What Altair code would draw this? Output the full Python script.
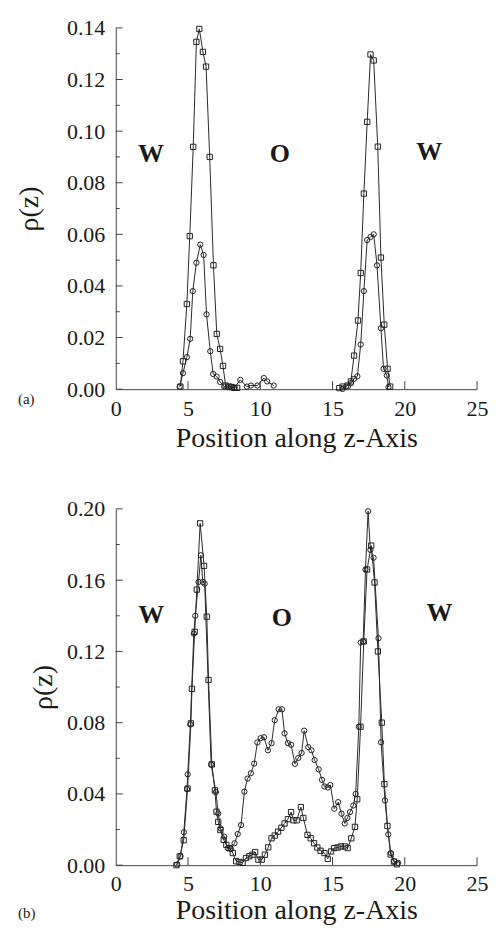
import altair as alt
import pandas as pd

SERIF = "Liberation Serif"

# ---------------- Panel (a) ----------------
a_sq_z = [4.47, 4.65, 4.92, 5.12, 5.36, 5.58, 5.78, 6.03, 6.25, 6.50, 6.76, 6.99, 7.22, 7.42, 7.60,
          7.80, 8.00, 8.20, 8.40,
          15.47, 15.70, 16.04, 16.27, 16.49, 16.76, 16.95, 17.17, 17.40, 17.63, 17.85, 18.13, 18.35,
          18.58, 18.81, 18.99]
a_sq_rho = [0.001, 0.0108, 0.033, 0.0593, 0.0939, 0.1346, 0.1396, 0.1307, 0.125, 0.090, 0.048, 0.0214,
            0.0156, 0.009, 0.0014, 0.001, 0.0008, 0.0005, 0.0005,
            0.0004, 0.001, 0.0014, 0.003, 0.013, 0.0266, 0.045, 0.0758, 0.1036, 0.1297, 0.1274, 0.094,
            0.051, 0.025, 0.0079, 0.001]
a_ci_z = [4.42, 4.65, 4.92, 5.15, 5.33, 5.58, 5.85, 6.08, 6.28, 6.54, 6.74, 6.98, 7.22, 7.50, 7.75,
          7.98, 8.20, 8.62, 9.07, 9.35, 9.80, 10.25, 10.48, 10.93,
          15.70, 15.93, 16.27, 16.49, 16.72, 16.95, 17.17, 17.40, 17.63, 17.85, 18.08, 18.35, 18.53,
          18.76, 18.87]
a_ci_rho = [0.001, 0.0062, 0.0124, 0.0195, 0.038, 0.049, 0.056, 0.052, 0.029, 0.0147, 0.0059, 0.0049,
            0.0028, 0.001, 0.0008, 0.001, 0.0005, 0.0036, 0.001, 0.0014, 0.0014, 0.0043, 0.003, 0.0014,
            0.0001, 0.001, 0.0023, 0.004, 0.005, 0.0173, 0.038, 0.0578, 0.059, 0.060, 0.048, 0.0236,
            0.0079, 0.0053, 0.0008]

# ---------------- Panel (b) ----------------
b_sq_z = [4.20, 4.43, 4.70, 4.97, 5.20, 5.27, 5.46, 5.61, 5.84, 6.11, 6.30, 6.42, 6.65, 6.86, 6.97,
          7.09, 7.24, 7.47, 7.65, 7.88, 8.10, 8.33, 8.56, 8.78, 9.01, 9.24, 9.46, 9.64, 9.87, 10.10,
          10.32, 10.55, 10.78, 11.00, 11.23, 11.46, 11.68, 11.91, 12.13, 12.30, 12.52, 12.81, 12.98,
          13.27, 13.49, 13.72, 13.95, 14.17, 14.44, 14.67, 14.90, 15.12, 15.35, 15.58, 15.85, 16.05,
          16.30, 16.55, 16.71, 16.94, 17.16, 17.39, 17.68, 17.91, 18.14, 18.41, 18.59, 18.80, 19.02,
          19.25, 19.45]
b_sq_rho = [0.0, 0.005, 0.014, 0.043, 0.0796, 0.099, 0.131, 0.1547, 0.1919, 0.168, 0.1395, 0.104,
            0.0566, 0.042, 0.030, 0.0243, 0.0197, 0.0142, 0.0114, 0.0096, 0.0068, 0.0022, 0.0018,
            0.0013, 0.004, 0.005, 0.0059, 0.0074, 0.0031, 0.0031, 0.0059, 0.010, 0.0151, 0.0166,
            0.0188, 0.021, 0.0234, 0.0258, 0.0298, 0.0252, 0.0252, 0.0326, 0.0265, 0.017, 0.0151,
            0.0123, 0.0099, 0.0081, 0.0068, 0.0035, 0.0077, 0.0096, 0.0099, 0.0105, 0.0105, 0.0096,
            0.0151, 0.0215, 0.037, 0.0777, 0.1256, 0.166, 0.1794, 0.1587, 0.120, 0.080, 0.0455,
            0.022, 0.006, 0.002, 0.0005]
b_ci_z = [4.25, 4.48, 4.71, 4.93, 4.98, 5.16, 5.40, 5.50, 5.73, 5.89, 6.02, 6.15, 6.60, 6.93, 7.09,
          7.26, 7.50, 7.75, 7.98, 8.22, 8.44, 8.67, 8.90, 9.12, 9.35, 9.58, 9.80, 10.03, 10.26, 10.53,
          10.78, 11.00, 11.28, 11.50, 11.68, 11.91, 12.13, 12.40, 12.63, 12.86, 13.04, 13.32, 13.54,
          13.76, 14.04, 14.27, 14.44, 14.67, 14.85, 15.12, 15.39, 15.62, 15.85, 16.03, 16.21, 16.44,
          16.60, 16.82, 16.95, 17.12, 17.28, 17.46, 17.62, 17.84, 18.18, 18.36, 18.63, 18.86, 19.04,
          19.27, 19.54]
b_ci_rho = [0.0004, 0.005, 0.0185, 0.0427, 0.051, 0.079, 0.130, 0.140, 0.159, 0.174, 0.159, 0.158,
            0.0565, 0.041, 0.029, 0.0206, 0.016, 0.0095, 0.009, 0.0123, 0.0175, 0.0225, 0.0413,
            0.0486, 0.0516, 0.057, 0.0689, 0.0713, 0.0718, 0.0645, 0.0685, 0.0814, 0.0875, 0.0875,
            0.074, 0.0685, 0.0676, 0.0569, 0.0602, 0.063, 0.0755, 0.0663, 0.0645, 0.059, 0.0538,
            0.0479, 0.0442, 0.0436, 0.045, 0.0317, 0.0354, 0.0289, 0.0234, 0.0265, 0.0298, 0.0335,
            0.040, 0.0777, 0.125, 0.1256, 0.166, 0.1987, 0.177, 0.1726, 0.1274, 0.069, 0.0363,
            0.0173, 0.0068, 0.0022, 0.0013]

# ---------------- axes / annotations ----------------
x_ticks = [0, 5, 10, 15, 20, 25]
x_inner_ticks = [5, 10, 15, 20, 25]
a_y_major = [0.00, 0.02, 0.04, 0.06, 0.08, 0.10, 0.12, 0.14]
a_y_minor = [0.01, 0.03, 0.05, 0.07, 0.09, 0.11, 0.13]
b_y_major = [0.00, 0.04, 0.08, 0.12, 0.16, 0.20]
b_y_minor = [0.02, 0.06, 0.10, 0.14, 0.18]

region_text = ["W", "O", "W"]
a_region_z = [2.43, 11.35, 21.7]
a_region_rho = [0.0913, 0.0913, 0.0918]
b_region_z = [2.45, 11.5, 22.4]
b_region_rho = [0.1403, 0.1387, 0.1414]

W = 362
INK = "#1a1a1a"


def series_df(sq_z, sq_rho, ci_z, ci_rho, split=None):
    rows = []
    for z, r in zip(sq_z, sq_rho):
        seg = "sq" + ("2" if split is not None and z > split else "1")
        rows.append({"z": z, "rho": r, "marker": "square", "seg": seg})
    for z, r in zip(ci_z, ci_rho):
        seg = "ci" + ("2" if split is not None and z > split else "1")
        rows.append({"z": z, "rho": r, "marker": "circle", "seg": seg})
    return pd.DataFrame(rows)


def panel(df, H, ymax, ymajor, yminor, rz, rr, tag, title_x, tag_x, tag_y, xtitle_y, xlabel_pad):
    xs = alt.Scale(domain=[0, 25], nice=False, zero=False)
    ys = alt.Scale(domain=[0, ymax], nice=False)
    x_axis = alt.Axis(values=x_ticks, format="d", ticks=False, grid=False, labelPadding=xlabel_pad,
                      labelFont=SERIF, labelFontSize=22, labelColor=INK, labelFlush=False,
                      title="Position along z-Axis", titleFont=SERIF, titleFontSize=28,
                      titleFontWeight="normal", titleColor=INK, titleY=xtitle_y,
                      titleBaseline="alphabetic", domainColor="#444", domainWidth=1)
    y_axis = alt.Axis(values=ymajor, format=".2f", ticks=False, grid=False, labelPadding=11,
                      labelFont=SERIF, labelFontSize=22, labelColor=INK, labelFlush=False,
                      title="ρ(z)", titleFont=SERIF, titleFontSize=28, titleFontWeight="normal",
                      titleColor=INK, titleAngle=270, titleX=title_x, titleY=H / 2,
                      titleAlign="center", titleBaseline="middle",
                      domainColor="#444", domainWidth=1)

    base = alt.Chart(df)
    lines = base.mark_line(color="#2a2a2a", strokeWidth=1).encode(
        x=alt.X("z:Q", scale=xs, axis=x_axis),
        y=alt.Y("rho:Q", scale=ys, axis=y_axis),
        detail="seg:N",
        order="z:Q",
    )
    pts = base.mark_point(filled=False, size=28, strokeWidth=1, color="#222", opacity=1).encode(
        x="z:Q",
        y="rho:Q",
        shape=alt.Shape("marker:N",
                        scale=alt.Scale(domain=["circle", "square"], range=["circle", "square"]),
                        legend=None),
    )
    ymaj = alt.Chart(pd.DataFrame({"rho": ymajor})).mark_rule(color="#444", strokeWidth=1).encode(
        y="rho:Q", x=alt.value(0), x2=alt.value(7))
    ymin = alt.Chart(pd.DataFrame({"rho": yminor})).mark_rule(color="#444", strokeWidth=1).encode(
        y="rho:Q", x=alt.value(0), x2=alt.value(4))
    xtk = alt.Chart(pd.DataFrame({"z": x_inner_ticks})).mark_rule(color="#444", strokeWidth=1).encode(
        x="z:Q", y=alt.value(H), y2=alt.value(H - 8))
    regions = alt.Chart(pd.DataFrame({"z": rz, "rho": rr, "t": region_text})).mark_text(
        font=SERIF, fontSize=26, fontWeight="bold", color=INK, align="center", baseline="middle"
    ).encode(x="z:Q", y="rho:Q", text="t:N")
    tag_mark = alt.Chart(pd.DataFrame({"t": [tag]})).mark_text(
        font=SERIF, fontSize=15, color=INK, align="left", baseline="middle"
    ).encode(text="t:N", x=alt.value(tag_x), y=alt.value(tag_y))

    return alt.layer(lines, pts, ymaj, ymin, xtk, regions, tag_mark).properties(width=W, height=H)


df_a = series_df(a_sq_z, a_sq_rho, a_ci_z, a_ci_rho, split=12)
df_b = series_df(b_sq_z, b_sq_rho, b_ci_z, b_ci_rho)

HA, HB = 362, 357
pa = panel(df_a, HA, 0.14, a_y_major, a_y_minor, a_region_z, a_region_rho, "(a)",
           title_x=-86, tag_x=-98, tag_y=HA + 10, xtitle_y=57, xlabel_pad=9)
pb = panel(df_b, HB, 0.20, b_y_major, b_y_minor, b_region_z, b_region_rho, "(b)",
           title_x=-72, tag_x=-98, tag_y=HB + 48, xtitle_y=53, xlabel_pad=8)

chart = alt.vconcat(pa, pb, spacing=120, bounds="flush").properties(
    padding={"left": 8, "top": 8, "right": 0, "bottom": 0},
    background="white",
).configure(font=SERIF).configure_axis(
    labelFont=SERIF, titleFont=SERIF
).configure_text(font=SERIF).configure_view(stroke=None)

chart.save("out.html", embed_options={"renderer": "svg", "actions": False})
